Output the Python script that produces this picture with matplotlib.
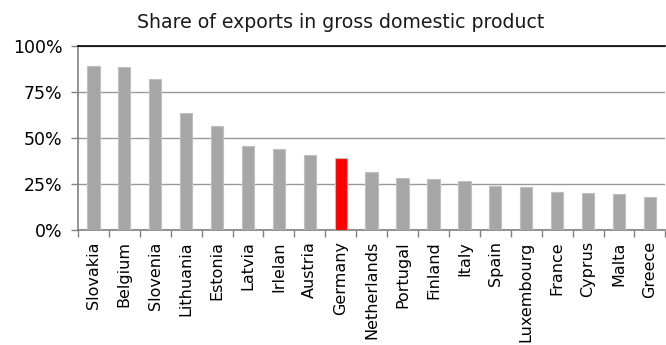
import matplotlib
matplotlib.use("Agg")
import matplotlib.pyplot as plt
from matplotlib.ticker import FuncFormatter, FixedLocator

# Data (share of exports in GDP, %).
countries = ["Slovakia", "Belgium", "Slovenia", "Lithuania", "Estonia", "Latvia",
             "Irlelan", "Austria", "Germany", "Netherlands", "Portugal", "Finland",
             "Italy", "Spain", "Luxembourg", "France", "Cyprus", "Malta", "Greece"]
shares = [89.0, 88.3, 82.0, 63.6, 56.5, 45.4, 44.0, 40.8, 39.0, 31.8, 28.5, 27.7,
          26.6, 24.2, 23.4, 20.9, 20.1, 19.6, 18.2]
highlight = "Germany"

# Create figure.
fig = plt.figure(figsize=(6.66, 3.45), dpi=100)
ax = fig.add_axes([0.117, 0.333, 0.882, 0.534])

colors = ["#ff0000" if c == highlight else "#a6a6a6" for c in countries]
x = range(len(countries))
ax.bar(x, shares, width=0.4, color=colors, edgecolor="#bfbfbf", linewidth=0.8,
       zorder=3)

# Axes limits and grid.
ax.set_xlim(-0.5, len(countries) - 0.5)
ax.set_ylim(0, 100)
ax.set_yticks([0, 25, 50, 75, 100])
ax.yaxis.set_major_formatter(FuncFormatter(lambda v, _: f"{v:.0f}%"))
ax.grid(axis="y", color="#999999", linewidth=1.0, zorder=0)

# Category labels, with ticks between categories.
ax.set_xticks(list(x))
ax.set_xticklabels(countries, rotation=90, fontsize=11.5)
ax.tick_params(axis="x", which="major", length=0, pad=8)
ax.xaxis.set_minor_locator(FixedLocator([i - 0.5 for i in range(len(countries) + 1)]))
ax.tick_params(axis="x", which="minor", length=5, color="#808080", width=1)
ax.tick_params(axis="y", length=5, color="#808080", width=1, labelsize=12.5,
               pad=6)

# Spines.
for side in ["left", "bottom"]:
    ax.spines[side].set_color("#808080")
    ax.spines[side].set_linewidth(1.2)
ax.spines["top"].set_color("black")
ax.spines["top"].set_linewidth(1.2)
ax.spines["right"].set_visible(False)

fig.text(0.512, 0.935, "Share of exports in gross domestic product",
         ha="center", va="center", fontsize=13.6, color="#1a1a1a")

fig.savefig("out.png", dpi=100)
plt.close(fig)
